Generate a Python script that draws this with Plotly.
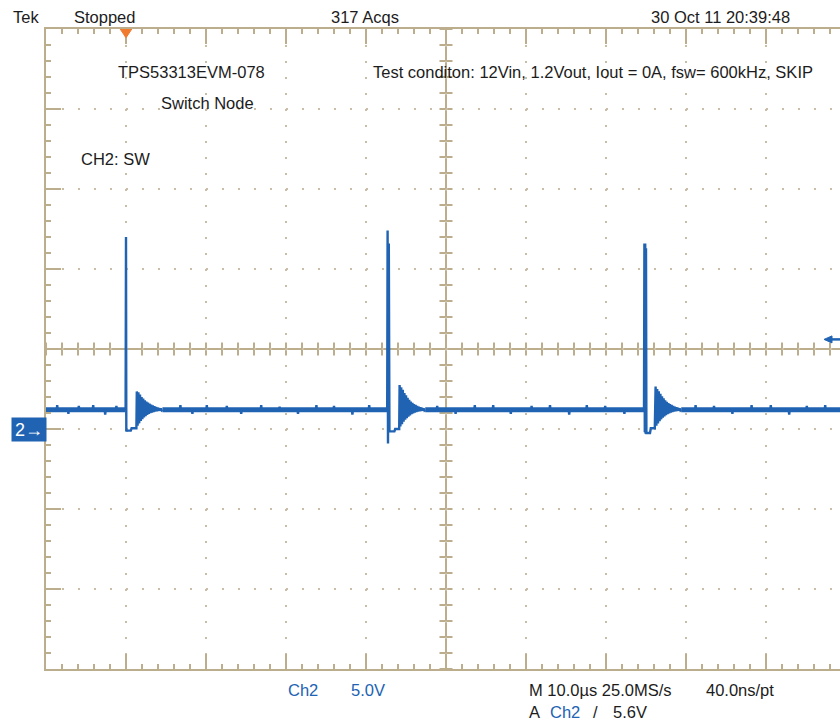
import plotly.graph_objects as go

# ---------------- data ----------------
# time in microseconds relative to the trigger point, voltage in volts
screen_t = [-10.0, 89.25]
baseline_v = 1.2

spike_t = [0.0, 32.75, 64.9]
# spike shape per burst: offsets (us) and values (V)
spike1_dt = [-0.05, 0.0, 0.04]
spike1_v = [1.2, 12.0, -0.15]
spike2_dt = [-0.1, -0.05, 0.0, 0.1, 0.18]
spike2_v = [1.2, 12.4, -0.9, 11.6, -0.15]
spike3_dt = [-0.15, -0.1, -0.05, 0.0, 0.05, 0.1, 0.15]
spike3_v = [1.2, 11.6, -0.2, 11.6, -0.3, 11.3, -0.25]

# negative dip after each spike: offsets and values
dip1_dt = [0.1, 0.6, 0.7, 1.3]
dip1_v = [-0.1, -0.1, 0.05, 0.05]
dip2_dt = [0.25, 0.8, 0.9, 1.4]
dip2_v = [-0.15, -0.15, 0.0, 0.0]
dip3_dt = [0.2, 0.6, 0.7, 1.2]
dip3_v = [-0.25, -0.25, 0.05, 0.05]

# ringing after each dip: alternating highs and lows
ring_start = [1.35, 1.45, 1.3]
ring1_high = [2.35, 2.3, 2.15, 2.0, 1.9, 1.8, 1.72, 1.65, 1.58, 1.52, 1.47, 1.42, 1.38, 1.34, 1.3, 1.28]
ring1_low = [0.2, 0.35, 0.5, 0.62, 0.72, 0.8, 0.88, 0.94, 0.99, 1.03, 1.06, 1.09, 1.11, 1.13, 1.15, 1.16]
ring2_high = [2.75, 2.6, 2.45, 2.25, 2.1, 1.95, 1.82, 1.72, 1.63, 1.56, 1.5, 1.45, 1.4, 1.36, 1.32, 1.29]
ring2_low = [0.15, 0.3, 0.45, 0.58, 0.68, 0.77, 0.85, 0.92, 0.98, 1.02, 1.06, 1.09, 1.11, 1.13, 1.15, 1.16]
ring3_high = [2.65, 2.5, 2.35, 2.2, 2.05, 1.92, 1.8, 1.7, 1.62, 1.55, 1.5, 1.45, 1.4, 1.36, 1.32, 1.29]
ring3_low = [0.2, 0.35, 0.48, 0.6, 0.7, 0.78, 0.86, 0.93, 0.98, 1.02, 1.06, 1.09, 1.11, 1.13, 1.15, 1.16]
ring_step = 0.1

# small noise notches on the baseline
noise_t = [-8.6, -7.2, -5.9, -4.1, -2.6, -1.2, 6.8, 8.3, 10.1, 12.6, 14.4, 16.9, 19.2, 21.5,
           23.8, 26.0, 28.3, 30.4, 38.9, 41.2, 43.6, 45.9, 48.1, 50.7, 53.0, 55.4, 57.6, 59.9,
           62.3, 71.2, 73.5, 75.8, 78.2, 80.6, 82.9, 85.1, 87.4]
noise_v = [1.5, 0.95, 1.45, 1.5, 0.9, 1.45, 1.5, 0.95, 1.5, 1.45, 0.95, 1.5, 1.4, 0.95,
           1.5, 1.45, 0.9, 1.5, 1.45, 0.95, 1.5, 1.5, 0.95, 1.45, 1.5, 0.9, 1.5, 1.45,
           0.95, 1.5, 1.45, 0.95, 1.5, 1.5, 0.9, 1.45, 1.5]

trig_level_v = 5.6

# ---------------- build traces ----------------
BLUE = "#2163B3"
TAN = "#BCAE8C"
DOT = "#C9BEA5"

spikes_dt = [spike1_dt, spike2_dt, spike3_dt]
spikes_v = [spike1_v, spike2_v, spike3_v]
dips_dt = [dip1_dt, dip2_dt, dip3_dt]
dips_v = [dip1_v, dip2_v, dip3_v]
rings = [(ring1_high, ring1_low), (ring2_high, ring2_low), (ring3_high, ring3_low)]

ev_t, ev_v = [], []
base_t, base_v = [], []
seg_start = screen_t[0]
for i, ts in enumerate(spike_t):
    base_t += [seg_start, ts + spikes_dt[i][0], None]
    base_v += [baseline_v, baseline_v, None]
    for dt, v in zip(spikes_dt[i], spikes_v[i]):
        ev_t.append(ts + dt); ev_v.append(v)
    for dt, v in zip(dips_dt[i], dips_v[i]):
        ev_t.append(ts + dt); ev_v.append(v)
    hi, lo = rings[i]
    t = ts + ring_start[i]
    for h, l in zip(hi, lo):
        ev_t.append(t); ev_v.append(h)
        ev_t.append(t + ring_step); ev_v.append(l)
        t += 2 * ring_step
    ev_t.append(t); ev_v.append(baseline_v)
    ev_t.append(None); ev_v.append(None)
    seg_start = t
base_t += [seg_start, screen_t[1]]
base_v += [baseline_v, baseline_v]

for nt, nv in zip(noise_t, noise_v):
    ev_t += [nt - 0.06, nt, nt + 0.06, None]
    ev_v += [baseline_v, nv, baseline_v, None]

fig = go.Figure()
fig.add_trace(go.Scatter(x=base_t, y=base_v, mode="lines",
                         line=dict(color=BLUE, width=5), hoverinfo="skip", showlegend=False))
fig.add_trace(go.Scatter(x=ev_t, y=ev_v, mode="lines",
                         line=dict(color=BLUE, width=2.4), hoverinfo="skip", showlegend=False))

# ---------------- graticule ----------------
L, T, R, B = 46, 29, 840, 669
W, H = R - L, B - T
FS = 16.5

fig.update_layout(
    width=840, height=728,
    margin=dict(l=L, r=840 - R, t=T, b=728 - B, pad=0),
    paper_bgcolor="white", plot_bgcolor="white",
    showlegend=False,
    font=dict(family="Liberation Sans, Arial, sans-serif", size=FS, color="#1c1c1c"),
    xaxis=dict(range=screen_t, tick0=0, dtick=10, showticklabels=False,
               showgrid=True, gridcolor=DOT, gridwidth=2, griddash="2px,14px",
               zeroline=False, showline=True, linecolor=TAN, linewidth=2,
               mirror="allticks", ticks="inside", ticklen=15, tickwidth=2, tickcolor=TAN,
               minor=dict(dtick=2, tick0=0, ticks="inside", ticklen=5, tickwidth=2,
                          tickcolor=TAN, showgrid=False),
               fixedrange=True),
    yaxis=dict(range=[-15, 25], tick0=0, dtick=5, showticklabels=False,
               showgrid=True, gridcolor=DOT, gridwidth=2, griddash="2px,14px",
               zeroline=False, showline=True, linecolor=TAN, linewidth=2,
               mirror=False, ticks="inside", ticklen=15, tickwidth=2, tickcolor=TAN,
               minor=dict(dtick=1, tick0=0, ticks="inside", ticklen=5, tickwidth=2,
                          tickcolor=TAN, showgrid=False),
               fixedrange=True),
)

# centre crosshair with tick marks
cx, cy = 40.0, 5.0
hx = 6.5 / 8.0    # 6.5 px in us
hy = 6.5 / 16.0   # 6.5 px in V
path = f"M {screen_t[0]} {cy} L {screen_t[1]} {cy} M {cx} -15 L {cx} 25"
t = -10.0
while t <= 89.0:
    path += f" M {t} {cy - hy} L {t} {cy + hy}"
    t += 2.0
v = -15.0
while v <= 25.0:
    path += f" M {cx - hx} {v} L {cx + hx} {v}"
    v += 1.0
fig.add_shape(type="path", path=path, xref="x", yref="y",
              line=dict(color=TAN, width=2), layer="below")

# orange trigger position marker
fig.add_shape(type="path", xref="x", yref="y",
              path="M -0.8 25.05 L 0.8 25.05 L 0 24.45 Z",
              fillcolor="#F07A2E", line=dict(color="#F07A2E", width=1), layer="above")


def px(x, y):
    return (x - L) / W, (B - y) / H


def label(text, x, y, color="#1c1c1c", size=FS):
    xp, yp = px(x, y)
    fig.add_annotation(text=text, x=xp, y=yp, xref="paper", yref="paper",
                       xanchor="left", yanchor="middle", showarrow=False,
                       font=dict(color=color, size=size), borderpad=0)


label("Tek", 12, 17)
label("Stopped", 73, 17)
label("317 Acqs", 330, 17)
label("30 Oct 11 20:39:48", 650, 17)
label("TPS53313EVM-078", 117, 72)
label("Test conditon: 12Vin, 1.2Vout, Iout = 0A, fsw= 600kHz, SKIP", 372, 72)
label("Switch Node", 160, 103)
label("CH2: SW", 80, 159)
label("Ch2", 287, 690, color=BLUE)
label("5.0V", 350, 690, color=BLUE)
label("M 10.0µs 25.0MS/s", 528, 690)
label("40.0ns/pt", 705, 690)
label("A", 528, 712)
label("Ch2", 549, 712, color=BLUE)
label("/", 592, 712)
label("5.6V", 612, 712)

# channel 2 ground marker
xp, yp = px(29, 429.5)
fig.add_annotation(text="2→", x=xp, y=yp, xref="paper", yref="paper",
                   xanchor="center", yanchor="middle", showarrow=False,
                   width=34, height=23, bgcolor=BLUE, borderpad=0,
                   font=dict(color="white", size=18))

# trigger level arrow on the right edge (shaft + head)
x_tip, _ = px(824, 0)
x_neck, _ = px(832, 0)
x_end, _ = px(841, 0)
dv = 3.5 / 16.0
fig.add_shape(type="path", xref="paper", yref="y",
              path=(f"M {x_tip} {trig_level_v} L {x_neck} {trig_level_v + dv} "
                    f"L {x_neck} {trig_level_v - dv} Z"),
              fillcolor=BLUE, line=dict(color=BLUE, width=1), layer="above")
fig.add_shape(type="line", xref="paper", yref="y",
              x0=x_neck, x1=x_end, y0=trig_level_v, y1=trig_level_v,
              line=dict(color=BLUE, width=2.5), layer="above")

fig.write_html("out.html", config={"displayModeBar": False},
               post_script="document.body.style.margin='0';")
